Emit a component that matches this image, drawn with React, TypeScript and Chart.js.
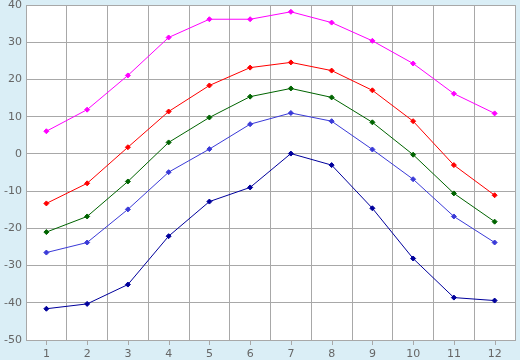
import React, { useEffect, useRef } from "react";
import { Chart, registerables } from "chart.js";

Chart.register(...registerables);

const months = ["1", "2", "3", "4", "5", "6", "7", "8", "9", "10", "11", "12"];
const seriesMagenta = [6.1, 11.9, 21.1, 31.3, 36.2, 36.2, 38.2, 35.3, 30.4, 24.3, 16.2, 10.9];
const seriesRed = [-13.3, -7.9, 1.8, 11.4, 18.4, 23.2, 24.6, 22.4, 17.1, 8.8, -3.0, -11.1];
const seriesGreen = [-21.0, -16.8, -7.4, 3.1, 9.8, 15.4, 17.6, 15.2, 8.5, -0.2, -10.6, -18.2];
const seriesLightBlue = [-26.5, -23.8, -14.9, -4.9, 1.3, 8.0, 11.0, 8.8, 1.2, -6.8, -16.8, -23.8];
const seriesDarkBlue = [-41.6, -40.3, -35.1, -22.1, -12.8, -9.0, 0.1, -3.0, -14.6, -28.1, -38.6, -39.4];
const yMin = -50;
const yMax = 40;
const yStep = 10;

const bgPlugin = {
  id: "bgPlugin",
  beforeDraw(chart: any) {
    const { ctx, chartArea } = chart;
    ctx.save();
    ctx.fillStyle = "#DAEEF6";
    ctx.fillRect(0, 0, chart.width, chart.height);
    ctx.fillStyle = "#FFFFFF";
    ctx.fillRect(chartArea.left, chartArea.top, chartArea.right - chartArea.left, chartArea.bottom - chartArea.top);
    ctx.restore();
  },
  afterDraw(chart: any) {
    const { ctx, chartArea } = chart;
    const xs = chart.scales.x;
    ctx.save();
    ctx.strokeStyle = "#A8A8A8";
    ctx.lineWidth = 1;
    ctx.beginPath();
    for (let i = 0; i < months.length; i++) {
      const x = Math.round(xs.getPixelForValue(i)) + 0.5;
      ctx.moveTo(x, chartArea.bottom);
      ctx.lineTo(x, chartArea.bottom + 5);
    }
    ctx.stroke();
    ctx.restore();
  },
};

function ds(label: string, data: number[], color: string) {
  return {
    label,
    data,
    borderColor: color,
    backgroundColor: color,
    borderWidth: 1,
    pointStyle: "rectRot" as const,
    pointRadius: 2.5,
    pointHoverRadius: 2.5,
    pointBorderWidth: 1,
    tension: 0,
  };
}

export default function App() {
  const ref = useRef<HTMLCanvasElement>(null);
  useEffect(() => {
    if (!ref.current) return;
    const chart = new Chart(ref.current, {
      type: "line",
      data: {
        labels: months,
        datasets: [
          ds("A", seriesMagenta, "#FF00FF"),
          ds("B", seriesRed, "#FF0000"),
          ds("C", seriesGreen, "#006400"),
          ds("D", seriesLightBlue, "#3A3AD8"),
          ds("E", seriesDarkBlue, "#00009C"),
        ],
      },
      options: {
        responsive: false,
        animation: false,
        layout: { padding: { top: 5, right: 5, left: 0, bottom: 0 } },
        plugins: { legend: { display: false }, tooltip: { enabled: false } },
        scales: {
          x: {
            type: "category",
            offset: true,
            grid: { offset: true, color: "#A8A8A8", drawTicks: false },
            border: { color: "#A8A8A8" },
            ticks: {
              color: "#666666",
              font: { family: "DejaVu Sans", size: 11, lineHeight: 0.2 },
              padding: 13,
              maxRotation: 0,
            },
            afterFit(scale: any) {
              scale.height = 20;
            },
          },
          y: {
            min: yMin,
            max: yMax,
            ticks: {
              stepSize: yStep,
              color: "#666666",
              font: { family: "DejaVu Sans", size: 11, lineHeight: 0.2 },
              padding: 4,
            },
            grid: { color: "#A8A8A8", drawTicks: false },
            border: { color: "#A8A8A8" },
            afterFit(scale: any) {
              scale.width = 26;
            },
          },
        },
      },
      plugins: [bgPlugin],
    });
    return () => chart.destroy();
  }, []);
  return (
    <div style={{ position: "absolute", left: 0, top: 0, width: 520, height: 360 }}>
      <canvas ref={ref} width={520} height={360} />
    </div>
  );
}
